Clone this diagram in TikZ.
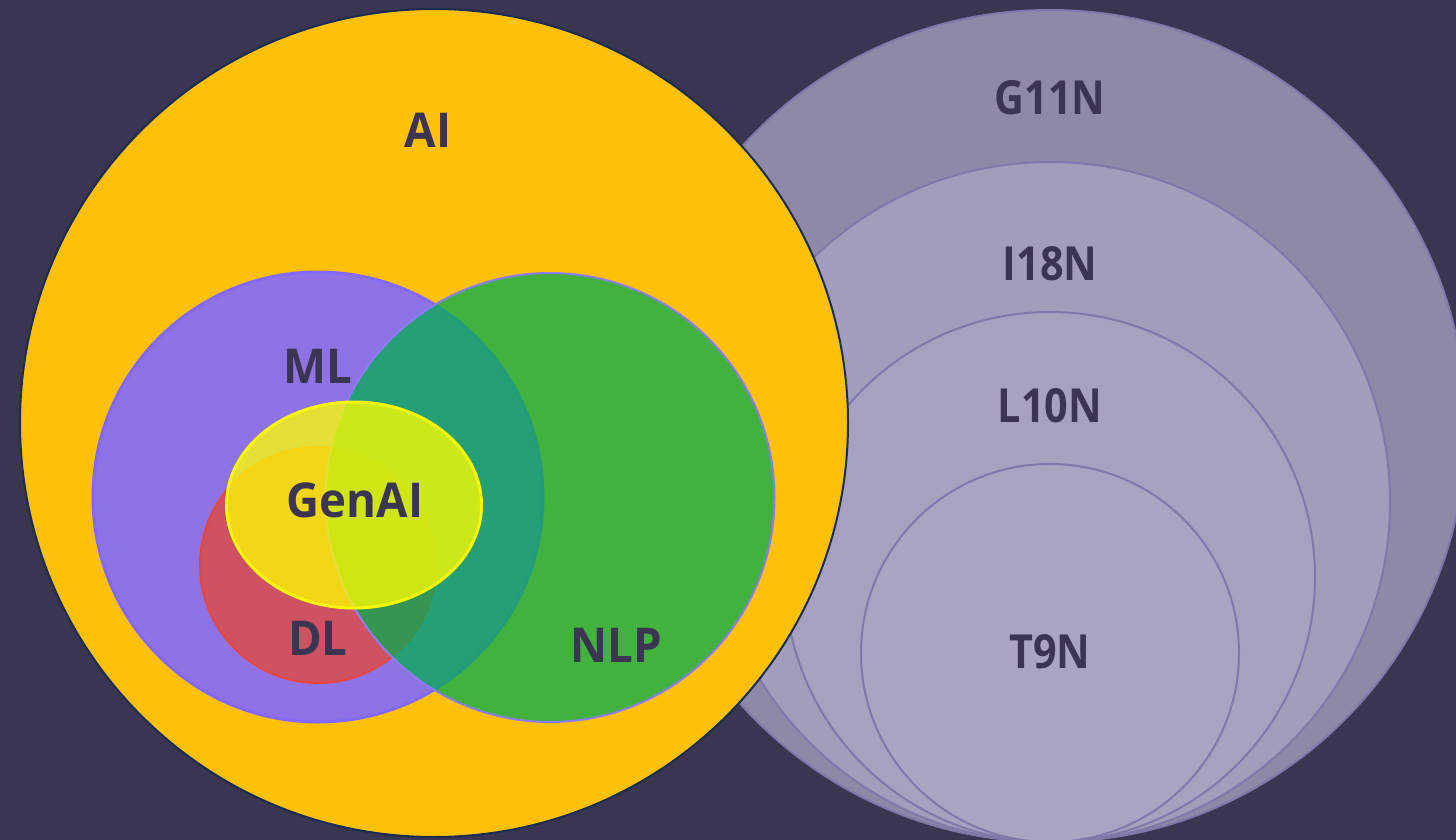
\documentclass[tikz,border=0pt]{standalone}
\usepackage{fontspec}
\setmainfont{Open Sans}
\newfontfamily\lblfont{Open Sans}[FakeStretch=0.95]
\newfontfamily\numfont{Open Sans}[FakeStretch=0.88]
\usetikzlibrary{shapes.geometric}
\definecolor{bg}{HTML}{3A3550}
\definecolor{txt}{HTML}{3B3552}
\definecolor{aifill}{HTML}{FFC107}
\definecolor{aiedge}{HTML}{1A2C52}
\definecolor{mlfill}{HTML}{8F73E6}
\definecolor{mledge}{HTML}{8468FF}
\definecolor{nlpfill}{HTML}{02AE50}
\definecolor{nlpedge}{HTML}{8C7CF8}
\definecolor{dlfill}{HTML}{E04A41}
\definecolor{dledge}{HTML}{E8453C}
\definecolor{genfill}{HTML}{FFFF00}
\definecolor{genedge}{HTML}{F8F800}
\definecolor{gfill}{HTML}{8E89A6}
\definecolor{ifill}{HTML}{A29DBB}
\definecolor{lfill}{HTML}{A6A1BF}
\definecolor{tfill}{HTML}{A9A4C2}
\definecolor{ringedge}{HTML}{7F79A9}
\begin{document}
\begin{tikzpicture}[x=1pt,y=-1pt,
  lbl/.style={text=txt, font=\lblfont\bfseries\fontsize{48}{50}\selectfont, anchor=base, inner sep=0pt},
  nlbl/.style={lbl, font=\numfont\bfseries\fontsize{47}{50}\selectfont},
  ring/.style={circle, draw=ringedge, line width=2pt, inner sep=0pt, minimum size=#1},
  setc/.style={circle, inner sep=0pt, minimum size=#1}]
\useasboundingbox (0,0) rectangle (1456,840);
\fill[bg] (0,0) rectangle (1456,840);
\clip (0,0) rectangle (1456,840);
% right nested circles
\node[ring=832pt, fill=gfill] (g11n) at (1050,426) {};
\node[ring=680pt, fill=ifill] (i18n) at (1050,502) {};
\node[ring=530pt, fill=lfill] (l10n) at (1050,577) {};
\node[ring=378pt, fill=tfill] (t9n) at (1050,653) {};
% AI set
\node[setc=828pt, fill=aifill, draw=aiedge, line width=2pt] (ai) at (434,423) {};
\node[setc=450pt, fill=mlfill, draw=mledge, line width=3pt] (ml) at (318,497) {};
\node[setc=236pt, fill=dlfill, fill opacity=0.8, draw=dledge, line width=2pt] (dl) at (318,565) {};
\node[setc=449pt, fill=nlpfill, fill opacity=0.75, draw=nlpedge, line width=2pt] (nlp) at (550,497.5) {};
\node[ellipse, inner sep=0pt, minimum width=255pt, minimum height=206pt, fill=genfill, fill opacity=0.77, draw=genedge, line width=3pt] (genai) at (354,505) {};
% labels
\node[lbl] (lai) at (428,148) {AI};
\node[lbl] (lml) at (318,383) {ML};
\node[lbl] (lgen) at (355,517) {GenAI};
\node[lbl] (ldl) at (318,655) {DL};
\node[lbl] (lnlp) at (616,662) {NLP};
\node[nlbl] (lg) at (1050,115) {G11N};
\node[nlbl] (li) at (1050,280) {I18N};
\node[nlbl] (ll) at (1050,422) {L10N};
\node[nlbl] (lt) at (1050,668) {T9N};
\end{tikzpicture}
\end{document}
